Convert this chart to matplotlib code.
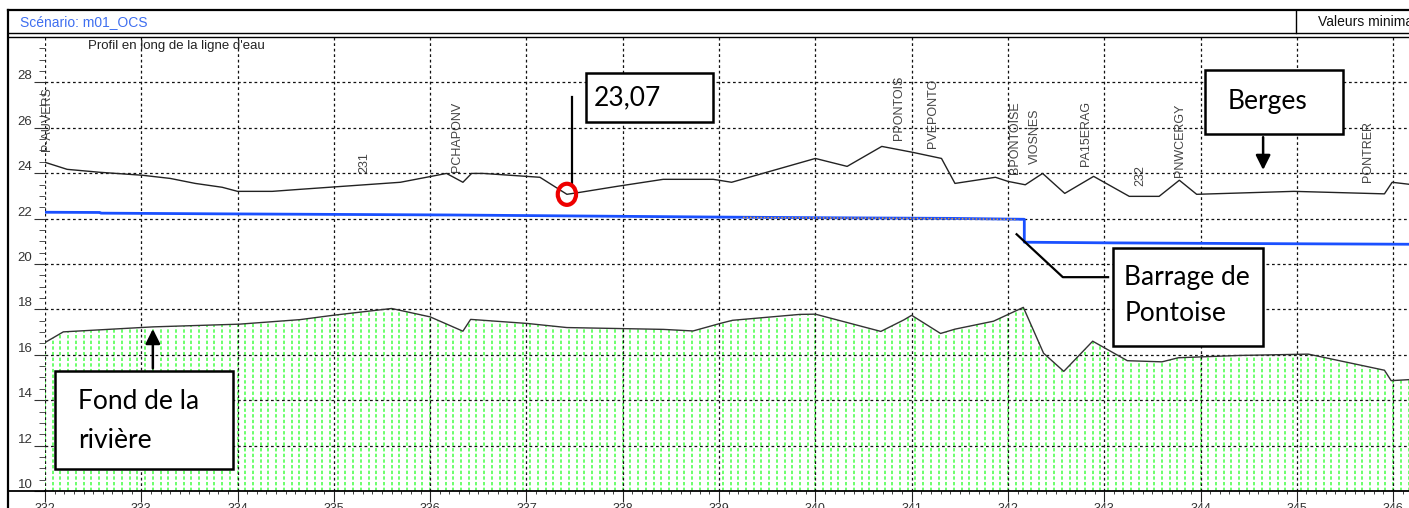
import numpy as np
import matplotlib.pyplot as plt
from matplotlib import patches
from matplotlib.lines import Line2D
from matplotlib.ticker import MultipleLocator, FixedLocator

plt.rcParams['font.family'] = ['Liberation Sans', 'DejaVu Sans']

# berges (rive) le long du bief, en PK / m NGF
pk_berges = [332.00, 332.23, 332.57, 333.01, 333.30, 333.56, 333.84, 334.00, 334.36, 334.65,
             335.69, 336.17, 336.34, 336.43, 336.55, 337.14, 337.42, 337.56, 337.94, 338.42,
             338.94, 339.13, 340.00, 340.33, 340.69, 341.01, 341.31, 341.45, 341.87, 342.00,
             342.18, 342.36, 342.59, 342.89, 343.26, 343.57, 343.78, 343.96, 344.97, 345.91,
             345.99, 346.17]
z_berges = [24.48, 24.17, 24.04, 23.91, 23.77, 23.55, 23.38, 23.20, 23.20, 23.29,
            23.60, 23.99, 23.60, 23.99, 23.99, 23.82, 23.07, 23.16, 23.42, 23.73,
            23.73, 23.60, 24.65, 24.30, 25.18, 24.92, 24.65, 23.55, 23.82, 23.64,
            23.49, 23.99, 23.11, 23.86, 22.98, 22.98, 23.69, 23.07, 23.20, 23.09,
            23.60, 23.51]

# ligne d'eau (chute au barrage de Pontoise)
pk_eau = [332.00, 332.57, 332.58, 333.80, 336.20, 337.40, 338.90, 340.00, 341.40, 342.17,
          342.17, 343.10, 344.50, 346.17]
z_eau = [22.28, 22.27, 22.24, 22.21, 22.16, 22.12, 22.07, 22.04, 22.01, 21.97,
         20.96, 20.93, 20.90, 20.87]
pk_eau2 = [339.25, 340.00, 341.40, 342.10]
z_eau2 = [22.05, 22.03, 22.00, 21.96]

# fond du lit
pk_fond = [332.00, 332.19, 333.12, 334.02, 334.65, 334.99, 335.60, 336.00, 336.34, 336.42,
           337.01, 337.42, 338.42, 338.73, 339.01, 339.14, 339.84, 340.00, 340.68, 340.92,
           341.00, 341.30, 341.45, 341.85, 342.16, 342.37, 342.58, 342.88, 343.24, 343.60,
           343.77, 344.39, 345.12, 345.91, 345.98, 346.18]
z_fond = [16.54, 17.01, 17.23, 17.35, 17.55, 17.74, 18.04, 17.67, 17.04, 17.56,
          17.38, 17.20, 17.12, 17.05, 17.38, 17.52, 17.78, 17.79, 17.03, 17.54,
          17.74, 16.94, 17.13, 17.48, 18.09, 16.07, 15.27, 16.60, 15.74, 15.69,
          15.87, 15.97, 16.03, 15.32, 14.86, 14.91]

# noms des profils
noms = ['P-AUVERS', '231', 'PCHAPONV', 'PPONTOIS', 'PVEPONTO', 'BPONTOISE',
        'VIOSNES', 'PA15ERAG', '232', 'PNWCERGY', 'PONTRER']
pk_noms = [332.02, 335.32, 336.28, 340.87, 341.22, 342.07, 342.28, 342.81, 343.37, 343.79, 345.74]
z_noms = [24.96, 24.00, 24.05, 25.46, 25.10, 23.97, 24.42, 24.30, 23.42, 23.83, 23.60]

y_ticks = [10, 12, 14, 16, 18, 20, 22, 24, 26, 28]

W, H = 1409, 508
fig = plt.figure(figsize=(W / 100, H / 100), dpi=100)
fx = lambda px: px / W
fy = lambda py: 1 - py / H

ax = fig.add_axes([fx(45), fy(491), fx(1409) - fx(45), fy(37) - fy(491)])
ax.set_xlim(332, 346.165)
ax.set_ylim(10, 30)

# remplissage du lit : tirets verticaux verts
xs = np.arange(332.0, 346.2, 0.08)
ax.vlines(xs, 10, np.interp(xs, pk_fond, z_fond), colors='#44ff44',
          linestyles=(0, (2.2, 1.5)), lw=1.1, zorder=1)

ax.plot(pk_fond, z_fond, color='#333333', lw=1, zorder=3)
ax.plot(pk_berges, z_berges, color='#222222', lw=1, zorder=3)
ax.plot(pk_eau, z_eau, color='#1a50ff', lw=2, zorder=3)
ax.plot(pk_eau2, z_eau2, color='#f0a020', lw=1, ls=(0, (1, 1.5)), zorder=3.5)

for nom, p, z in zip(noms, pk_noms, z_noms):
    ax.text(p, z, nom, rotation=90, ha='center', va='bottom', fontsize=9, color='#444444')

ax.xaxis.set_major_locator(MultipleLocator(1))
ax.xaxis.set_minor_locator(MultipleLocator(0.1))
ax.yaxis.set_major_locator(FixedLocator(y_ticks))
ax.yaxis.set_minor_locator(MultipleLocator(0.5))
ax.grid(True, which='major', color='#111111', lw=0.9, ls=(0, (2.2, 2.2)))
ax.tick_params(axis='x', which='major', direction='out', length=8, pad=1,
               labelsize=9, colors='#222222', labelcolor='#333333')
ax.tick_params(axis='x', which='minor', direction='out', length=2.5, colors='#222222')
ax.tick_params(axis='y', which='major', direction='out', length=8, pad=1,
               labelsize=9.5, colors='#333333')
ax.tick_params(axis='y', which='minor', direction='out', length=4, colors='#333333')
for lab in ax.get_yticklabels():
    lab.set_va('bottom')
for s in ['top', 'right', 'left']:
    ax.spines[s].set_visible(False)
ax.spines['bottom'].set_linewidth(1.3)

# cadre et en-tête
def fline(x0, y0, x1, y1, lw=1.0):
    fig.add_artist(Line2D([fx(x0), fx(x1)], [fy(y0), fy(y1)], color='k', lw=lw))

fline(8, 10, 8, 508, 1.6)
fline(8, 10, 1409, 10, 1.6)
fline(8, 33, 1409, 33, 1.0)
fline(8, 36.5, 1409, 36.5, 1.0)
fline(1296, 10, 1296, 33, 1.0)
fline(8, 491, 45, 491, 1.3)
fig.text(fx(20), fy(22), 'Scénario: m01_OCS', fontsize=10, color='#3f6ff0', va='center')
fig.text(fx(1318), fy(22), 'Valeurs minima', fontsize=10, color='#111111', va='center')
ax.text(332.45, 29.6, "Profil en long de la ligne d'eau", fontsize=9.5, color='#222222', va='center')

# encadrés explicatifs
callout = dict(family=['Lato', 'DejaVu Sans'], fontsize=19, color='k', zorder=6)
boite = dict(facecolor='white', edgecolor='k', lw=1.8, zorder=5)

ax.add_patch(patches.Rectangle((337.62, 26.24), 1.32, 2.16, **boite))
ax.text(337.70, 27.30, '23,07', va='center', ha='left', **callout)
ax.plot([337.47, 337.47], [27.34, 23.55], color='k', lw=1.6, zorder=4)
ax.add_patch(patches.Ellipse((337.42, 23.07), 0.19, 0.93, fill=False,
                             edgecolor='#ee0000', lw=3, zorder=5))

ax.add_patch(patches.Rectangle((344.05, 25.71), 1.43, 2.82, **boite))
ax.text(344.70, 27.15, 'Berges', va='center', ha='center', **callout)
ax.annotate('', xy=(344.65, 24.02), xytext=(344.65, 25.71),
            arrowprops=dict(arrowstyle='-|>', color='k', lw=1.8, mutation_scale=22), zorder=6)

ax.add_patch(patches.Rectangle((343.09, 16.38), 1.56, 4.31, **boite))
ax.text(343.21, 19.42, 'Barrage de', va='center', ha='left', **callout)
ax.text(343.21, 17.83, 'Pontoise', va='center', ha='left', **callout)
ax.plot([342.09, 342.57, 343.04], [21.31, 19.42, 19.42], color='k', lw=1.6, zorder=4)

ax.add_patch(patches.Rectangle((332.10, 10.97), 1.85, 4.31, **boite))
ax.text(332.34, 13.96, 'Fond de la', va='center', ha='left', **callout)
ax.text(332.34, 12.24, 'rivière', va='center', ha='left', **callout)
ax.annotate('', xy=(333.12, 17.26), xytext=(333.12, 15.28),
            arrowprops=dict(arrowstyle='-|>', color='k', lw=1.8, mutation_scale=22), zorder=6)

fig.savefig('out.png', dpi=100)
